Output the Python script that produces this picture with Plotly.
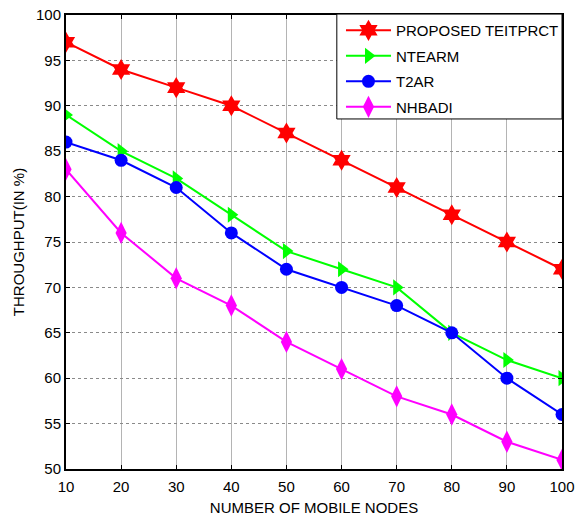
import plotly.graph_objects as go

nodes = [10, 20, 30, 40, 50, 60, 70, 80, 90, 100]
proposed = [97, 94, 92, 90, 87, 84, 81, 78, 75, 72]
ntearm = [89, 85, 82, 78, 74, 72, 70, 65, 62, 60]
t2ar = [86, 84, 81, 76, 72, 70, 68, 65, 60, 56]
nhbadi = [83, 76, 71, 68, 64, 61, 58, 56, 53, 51]

series = [
    ("PROPOSED TEITPRCT", proposed, "#ff0000", "hexagram", 16),
    ("NTEARM", ntearm, "#00ff00", "triangle-right", 14),
    ("T2AR", t2ar, "#0000ff", "circle", 13),
    ("NHBADI", nhbadi, "#ff00ff", "diamond-tall", 16),
]

FONT = "Liberation Sans, Arial"

fig = go.Figure()
for name, vals, color, sym, size in series:
    fig.add_trace(go.Scatter(
        x=nodes, y=vals, name=name, mode="lines+markers", legendgroup=name,
        line=dict(color=color, width=2),
        marker=dict(symbol=sym, size=size, color=color, line=dict(width=0)),
    ))

axis_common = dict(
    showline=True, linecolor="black", linewidth=2, mirror="ticks",
    ticks="inside", ticklen=4, tickcolor="black", tickwidth=1,
    showgrid=True, gridwidth=1, zeroline=False, automargin=False,
    tickfont=dict(family=FONT, size=15, color="black"),
)

fig.update_xaxes(range=[10, 100], tickvals=nodes, gridcolor="#b4b4b4",
                 ticklabelstandoff=3, **axis_common,
                 title=dict(text="NUMBER OF MOBILE NODES", standoff=8,
                            font=dict(family=FONT, size=15, color="black")))
fig.update_yaxes(range=[50, 100], dtick=5, gridcolor="#8a8a8a", griddash="dot",
                 **axis_common,
                 title=dict(text="THROUGHPUT(IN %)", standoff=8,
                            font=dict(family=FONT, size=15, color="black")))

# White legend frame drawn over the curves; the legend entries sit on top of it
fig.add_shape(type="rect", xref="paper", yref="paper",
              x0=0.546, x1=1.0, y0=0.771, y1=1.002,
              fillcolor="white", line=dict(color="black", width=1), layer="above")

fig.update_layout(
    width=582, height=518,
    margin=dict(l=66, r=20, t=15, b=49, autoexpand=False),
    plot_bgcolor="white", paper_bgcolor="white",
    legend=dict(x=0.5544, y=1.002, xanchor="left", yanchor="top",
                bgcolor="rgba(0,0,0,0)", borderwidth=0,
                font=dict(family=FONT, size=15, color="black"),
                itemwidth=45, tracegroupgap=3),
    showlegend=True,
)

fig.write_html("out.html")
